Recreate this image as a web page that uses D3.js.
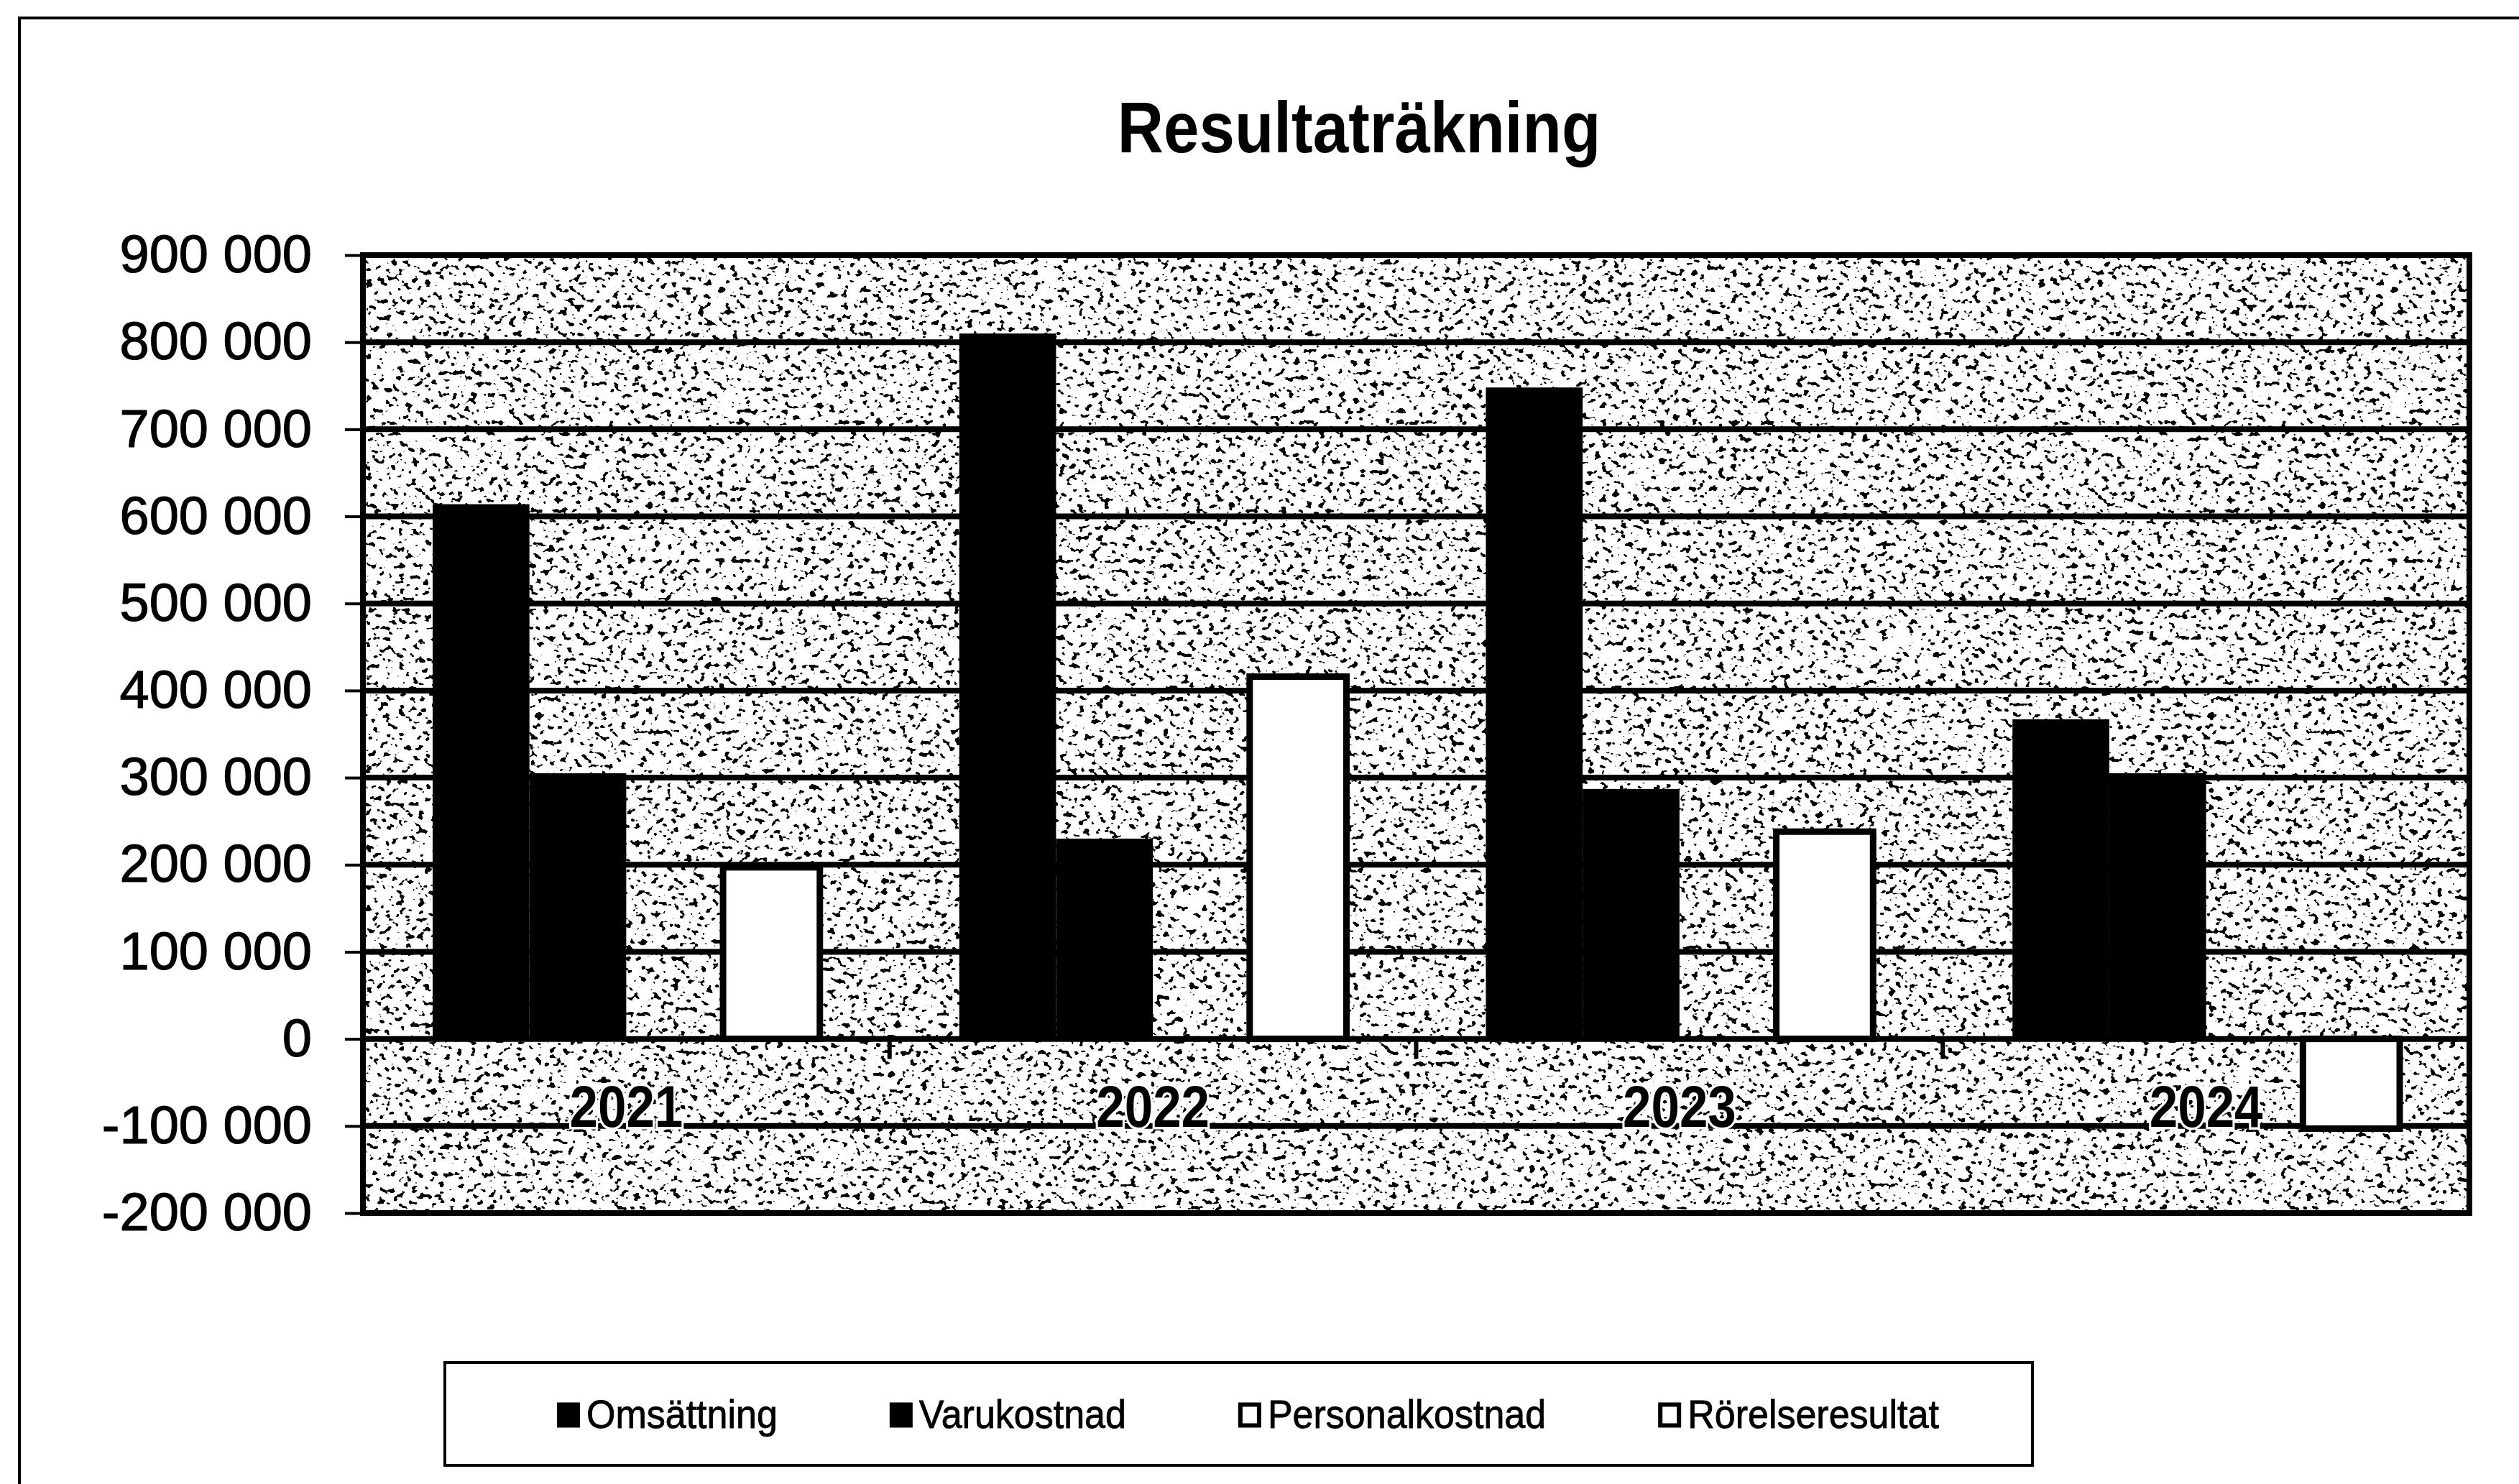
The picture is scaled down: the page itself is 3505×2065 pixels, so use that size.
<!DOCTYPE html>
<html>
<head>
<meta charset="utf-8">
<script src="https://cdn.jsdelivr.net/npm/d3@7"></script>
<style>
  html, body { margin: 0; padding: 0; background: #fff; }
  svg { display: block; }
</style>
</head>
<body>
<script>
// ---------- data ----------
const years = ["2021", "2022", "2023", "2024"];
const seriesNames = ["Omsättning", "Varukostnad", "Personalkostnad", "Rörelseresultat"];
const omsattning      = [614000, 810000, 748000, 367000];
const varukostnad     = [305000, 230000, 287000, 305000];
const personalkostnad = [0, 0, 0, 0];
const rorelseresultat = [197000, 416000, 238000, -103000];
const yTicks = [-200000, -100000, 0, 100000, 200000, 300000, 400000, 500000, 600000, 700000, 800000, 900000];
const titleText = "Resultaträkning";

// ---------- layout ----------
const W = 3505, H = 2065;
const plot = { left: 505, right: 3436, top: 355, bottom: 1688 };
const seriesValues = [omsattning, varukostnad, personalkostnad, rorelseresultat];
const seriesFill = ["#000", "#000", "#fff", "#fff"];
const seriesStroke = ["none", "none", "#000", "#000"];

const svg = d3.select("body").append("svg").attr("width", W).attr("height", H);

const defs = svg.append("defs");
const f = defs.append("filter").attr("id", "stip")
  .attr("filterUnits", "userSpaceOnUse")
  .attr("x", plot.left).attr("y", plot.top)
  .attr("width", plot.right - plot.left).attr("height", plot.bottom - plot.top)
  .attr("color-interpolation-filters", "sRGB");
f.append("feTurbulence").attr("type", "fractalNoise").attr("baseFrequency", "0.11 0.13")
  .attr("numOctaves", 2).attr("seed", 7).attr("result", "t");
f.append("feColorMatrix").attr("in", "t").attr("type", "matrix")
  .attr("values", "0 0 0 0 0  0 0 0 0 0  0 0 0 0 0  -26 0 0 0 10.2").attr("result", "a");
f.append("feFlood").attr("flood-color", "#fff").attr("result", "w");
const m = f.append("feMerge");
m.append("feMergeNode").attr("in", "w");
m.append("feMergeNode").attr("in", "a");

// chart area border
svg.append("rect").attr("x", 27).attr("y", 25).attr("width", W).attr("height", H)
  .attr("fill", "#fff").attr("stroke", "#000").attr("stroke-width", 4);

// scales
const y = d3.scaleLinear().domain([-200000, 900000]).range([plot.bottom, plot.top]);
const x0 = d3.scaleBand().domain(years).range([plot.left, plot.right]).padding(0);
const x1 = d3.scaleBand().domain(seriesNames).range([0, x0.bandwidth()])
  .paddingInner(0).paddingOuter(0.72);

// plot background with stipple
svg.append("rect").attr("x", plot.left).attr("y", plot.top)
  .attr("width", plot.right - plot.left).attr("height", plot.bottom - plot.top)
  .attr("fill", "#fff").attr("filter", "url(#stip)");

// gridlines
svg.append("g").selectAll("line").data(yTicks).join("line")
  .attr("x1", plot.left).attr("x2", plot.right)
  .attr("y1", d => y(d)).attr("y2", d => y(d))
  .attr("stroke", "#000").attr("stroke-width", 8);

// bars
const rows = [];
seriesNames.forEach((s, si) => {
  years.forEach((yr, yi) => rows.push({ s, si, yr, v: seriesValues[si][yi] }));
});
svg.append("g").selectAll("rect").data(rows).join("rect")
  .attr("x", d => x0(d.yr) + x1(d.s))
  .attr("width", x1.bandwidth())
  .attr("y", d => y(Math.max(0, d.v)))
  .attr("height", d => Math.abs(y(d.v) - y(0)))
  .attr("fill", d => seriesFill[d.si])
  .attr("stroke", d => seriesStroke[d.si])
  .attr("stroke-width", 9);

// category ticks on zero line
svg.append("g").selectAll("line").data(years.slice(1)).join("line")
  .attr("x1", d => x0(d)).attr("x2", d => x0(d))
  .attr("y1", y(0)).attr("y2", y(0) + 28)
  .attr("stroke", "#000").attr("stroke-width", 6);

// category labels
svg.append("g").selectAll("text").data(years).join("text")
  .attr("transform", d => `translate(${x0(d) + x0.bandwidth() / 2},${y(0) + 122}) scale(1,1.14)`)
  .attr("text-anchor", "middle")
  .attr("font-family", "Liberation Sans, Arial, sans-serif")
  .attr("font-weight", "bold").attr("font-size", 71)
  .attr("stroke", "#fff").attr("stroke-width", 6).attr("paint-order", "stroke")
  .text(d => d);

// plot border
svg.append("rect").attr("x", plot.left).attr("y", plot.top)
  .attr("width", plot.right - plot.left).attr("height", plot.bottom - plot.top)
  .attr("fill", "none").attr("stroke", "#000").attr("stroke-width", 8);

// y axis
const loc = d3.formatLocale({ decimal: ",", thousands: " ", grouping: [3], currency: ["", ""], minus: "-" });
const fmt = loc.format(",d");
const yAxis = svg.append("g").attr("transform", `translate(${plot.left},0)`)
  .call(d3.axisLeft(y).tickValues(yTicks).tickFormat(fmt).tickSize(25).tickPadding(46));
yAxis.select(".domain").remove();
yAxis.selectAll(".tick line").attr("stroke", "#000").attr("stroke-width", 4);
yAxis.selectAll(".tick text")
  .attr("font-family", "Liberation Sans, Arial, sans-serif")
  .attr("font-size", 74).attr("fill", "#000")
  .attr("stroke", "#000").attr("stroke-width", 1.2);

// title
svg.append("text")
  .attr("transform", `translate(1891,212) scale(1,1.12)`)
  .attr("text-anchor", "middle")
  .attr("font-family", "Liberation Sans, Arial, sans-serif")
  .attr("font-weight", "bold").attr("font-size", 89)
  .text(titleText);

// legend
const lg = { left: 619, top: 1896, right: 2828, bottom: 2039 };
svg.append("rect").attr("x", lg.left).attr("y", lg.top)
  .attr("width", lg.right - lg.left).attr("height", lg.bottom - lg.top)
  .attr("fill", "#fff").attr("stroke", "#000").attr("stroke-width", 4);
let cx = 776;
const cy = (lg.top + lg.bottom) / 2;
seriesNames.forEach((s, si) => {
  const g = svg.append("g");
  g.append("rect").attr("x", cx + 2).attr("y", cy - 13).attr("width", 26).attr("height", 29)
    .attr("fill", seriesFill[si]).attr("stroke", "#000").attr("stroke-width", 6);
  const t = g.append("text")
    .attr("transform", `translate(${cx + 40},${cy + 19}) scale(1,1.08)`)
    .attr("font-family", "Liberation Sans, Arial, sans-serif")
    .attr("font-size", 52).attr("stroke", "#000").attr("stroke-width", 0.8).text(s);
  cx += 40 + t.node().getComputedTextLength() + 157;
});
</script>
</body>
</html>
